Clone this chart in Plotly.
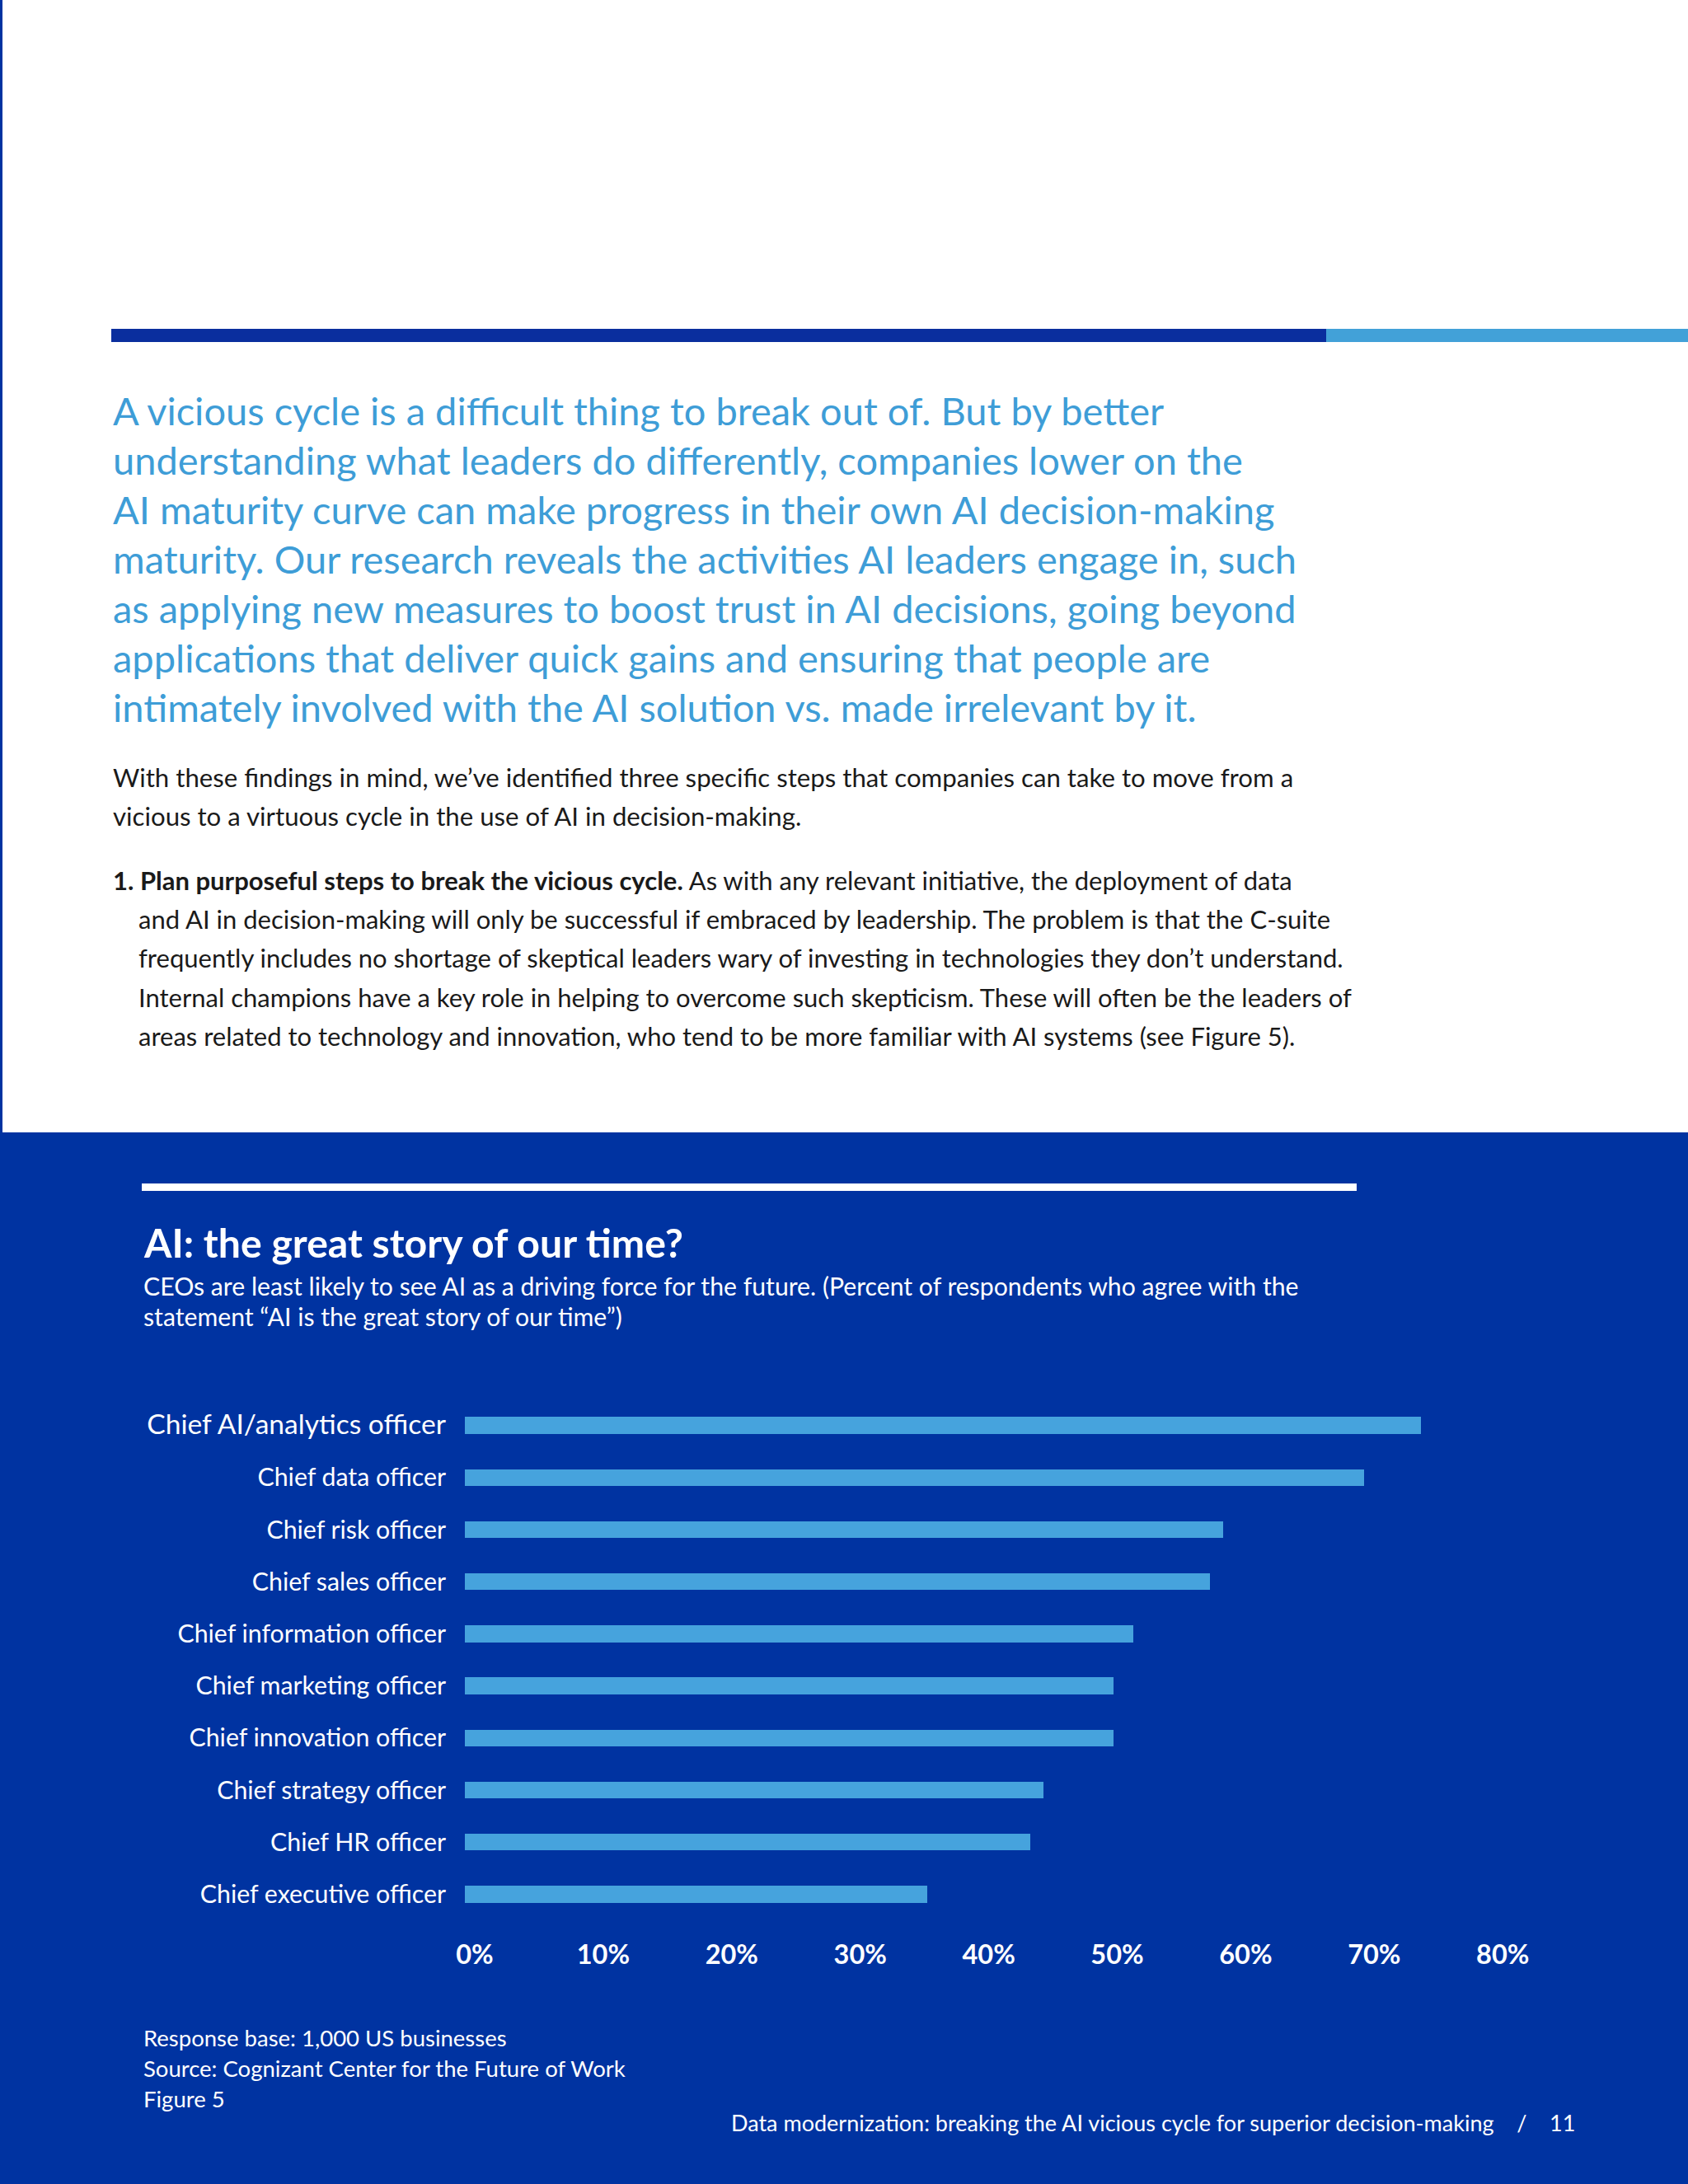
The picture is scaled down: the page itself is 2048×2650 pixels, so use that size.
import plotly.graph_objects as go

W, H = 2048, 2650

# ---------------- data ----------------
categories = [
    "Chief AI/analytics officer",
    "Chief data officer",
    "Chief risk officer",
    "Chief sales officer",
    "Chief information officer",
    "Chief marketing officer",
    "Chief innovation officer",
    "Chief strategy officer",
    "Chief HR officer",
    "Chief executive officer",
]
values = [74.4, 70, 59, 58, 52, 50.5, 50.5, 45, 44, 36]
tick_vals = [0, 10, 20, 30, 40, 50, 60, 70, 80]
tick_labels = ["0%", "10%", "20%", "30%", "40%", "50%", "60%", "70%", "80%"]

lead_lines = [
    "A vicious cycle is a difficult thing to break out of. But by better",
    "understanding what leaders do differently, companies lower on the",
    "AI maturity curve can make progress in their own AI decision-making",
    "maturity. Our research reveals the activities AI leaders engage in, such",
    "as applying new measures to boost trust in AI decisions, going beyond",
    "applications that deliver quick gains and ensuring that people are",
    "intimately involved with the AI solution vs. made irrelevant by it.",
]
body_lines = [
    "With these findings in mind, we\u2019ve identified three specific steps that companies can take to move from a",
    "vicious to a virtuous cycle in the use of AI in decision-making.",
]
list_lines = [
    "<b>1. Plan purposeful steps to break the vicious cycle.</b> As with any relevant initiative, the deployment of data",
    "and AI in decision-making will only be successful if embraced by leadership. The problem is that the C-suite",
    "frequently includes no shortage of skeptical leaders wary of investing in technologies they don\u2019t understand.",
    "Internal champions have a key role in helping to overcome such skepticism. These will often be the leaders of",
    "areas related to technology and innovation, who tend to be more familiar with AI systems (see Figure 5).",
]
title = "<b>AI: the great story of our time?</b>"
subtitle_lines = [
    "CEOs are least likely to see AI as a driving force for the future. (Percent of respondents who agree with the",
    "statement \u201cAI is the great story of our time\u201d)",
]
note_lines = [
    "Response base: 1,000 US businesses",
    "Source: Cognizant Center for the Future of Work",
    "Figure 5",
]
footer = "Data modernization: breaking the AI vicious cycle for superior decision-making&nbsp;&nbsp;&nbsp;&nbsp;/&nbsp;&nbsp;&nbsp;&nbsp;11"

# ---------------- styles ----------------
NAVY = "#0033A1"
DARK = "#0A2E9E"
LIGHT = "#42A1D8"
BAR = "#46A3DD"
BODY_FONT = "Lato"
LABEL_FONT = "Lato"


def X(px):
    return px / W


def Y(py):
    return 1 - py / H


fig = go.Figure()

# tick text: first label slightly larger as in reference
ticktext_y = [
    (f'<span style="font-size:33.6px">{c}</span>' if i == 0 else c)
    for i, c in enumerate(categories)
]

fig.add_trace(
    go.Bar(
        x=values,
        y=categories,
        orientation="h",
        marker=dict(color=BAR, line=dict(width=0)),
        width=0.32,
        hoverinfo="x+y",
    )
)

x0_px = 564
px_per_unit = 15.59
xmax = 85
fig.update_xaxes(
    domain=[X(x0_px), X(x0_px + xmax * px_per_unit)],
    range=[0, xmax],
    tickvals=tick_vals,
    ticktext=tick_labels,
    showgrid=False,
    zeroline=False,
    showline=False,
    ticks="",
    tickfont=dict(family=LABEL_FONT, size=32.5, color="white", weight="bold"),
    ticklabelstandoff=19,
    ticklabelshift=12,
    automargin=False,
    fixedrange=True,
)
fig.update_yaxes(
    domain=[Y(2330), Y(1698)],
    categoryorder="array",
    categoryarray=categories,
    tickvals=categories,
    ticktext=ticktext_y,
    autorange="reversed",
    showgrid=False,
    zeroline=False,
    showline=False,
    ticks="",
    tickfont=dict(family=LABEL_FONT, size=30.3, color="white"),
    ticklabelstandoff=22,
    automargin=False,
    fixedrange=True,
)

shapes = []
# left border line of white page
shapes.append(dict(type="rect", xref="paper", yref="paper", x0=X(0), x1=X(3), y0=Y(1374), y1=Y(0),
                   fillcolor=NAVY, line=dict(width=0), layer="below"))
# top rule
shapes.append(dict(type="rect", xref="paper", yref="paper", x0=X(135), x1=X(1609), y0=Y(415), y1=Y(399),
                   fillcolor=DARK, line=dict(width=0), layer="below"))
shapes.append(dict(type="rect", xref="paper", yref="paper", x0=X(1609), x1=X(2048), y0=Y(415), y1=Y(399),
                   fillcolor=LIGHT, line=dict(width=0), layer="below"))
# navy section
shapes.append(dict(type="rect", xref="paper", yref="paper", x0=0, x1=1, y0=0, y1=Y(1374),
                   fillcolor=NAVY, line=dict(width=0), layer="below"))
# white rule in navy section
shapes.append(dict(type="rect", xref="paper", yref="paper", x0=X(172), x1=X(1646), y0=Y(1445), y1=Y(1436),
                   fillcolor="white", line=dict(width=0), layer="below"))

ann = []


def text(x, y, s, size, color, family=BODY_FONT, anchor="left", weight=None):
    f = dict(family=family, size=size, color=color)
    if weight:
        f["weight"] = weight
    ann.append(dict(xref="paper", yref="paper", x=X(x), y=Y(y), text=s, showarrow=False,
                    xanchor=anchor, yanchor="middle", align=anchor, font=f))


for i, s in enumerate(lead_lines):
    text(135, 498 + i * 60, s, 47, "#3E9DD7")
for i, s in enumerate(body_lines):
    text(135, 943 + i * 47, s, 31.2, "#1A1A1A")
for i, s in enumerate(list_lines):
    text(135 if i == 0 else 166, 1068 + i * 47.2, s, 31, "#1A1A1A")

text(172, 1507, title, 48.2, "white")
for i, s in enumerate(subtitle_lines):
    text(172, 1560 + i * 37, s, 30.2, "white")
for i, s in enumerate(note_lines):
    text(172, 2472 + i * 37, s, 27.5, "white")
text(1913, 2575, footer, 27, "white", anchor="right")

fig.update_layout(
    width=W,
    height=H,
    margin=dict(l=0, r=0, t=0, b=0, pad=0),
    paper_bgcolor="white",
    plot_bgcolor="rgba(0,0,0,0)",
    showlegend=False,
    shapes=shapes,
    annotations=ann,
    bargap=0,
)

post = (
    "document.documentElement.style.margin='0';"
    "document.documentElement.style.overflow='hidden';"
    "document.body.style.margin='0';document.body.style.padding='0';"
    "document.body.style.overflow='hidden';"
)

fig.write_html(
    "out.html",
    config={"displayModeBar": False},
    post_script=post,
)
